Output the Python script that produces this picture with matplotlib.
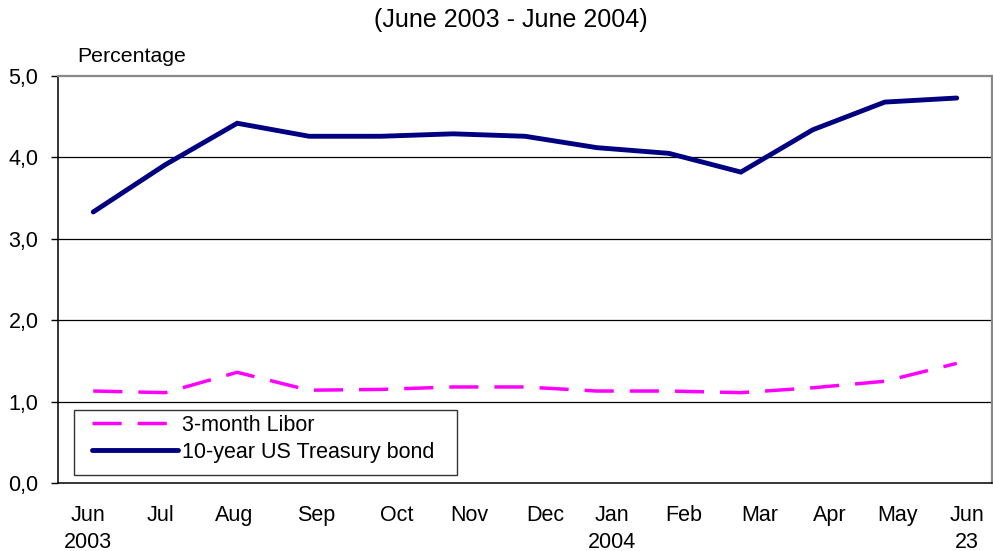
import matplotlib
matplotlib.use("Agg")
import matplotlib.pyplot as plt
from matplotlib.patches import Rectangle

plt.rcParams["font.family"] = ["Liberation Sans", "DejaVu Sans"]
plt.rcParams["lines.scale_dashes"] = False

# monthly observations, June 2003 to June 23, 2004
months = ["Jun\n2003", "Jul", "Aug", "Sep", "Oct", "Nov", "Dec",
          "Jan\n2004", "Feb", "Mar", "Apr", "May", "Jun\n23"]
libor = [1.13, 1.11, 1.36, 1.14, 1.15, 1.18, 1.18,
         1.13, 1.13, 1.11, 1.17, 1.25, 1.47]
treasury = [3.33, 3.91, 4.42, 4.26, 4.26, 4.29, 4.26,
            4.12, 4.05, 3.82, 4.34, 4.68, 4.73]
# where the month labels sit along the axis
label_pos = [-0.08, 0.94, 1.96, 3.10, 4.22, 5.22, 6.28,
             7.21, 8.21, 9.26, 10.24, 11.17, 12.14]

x = list(range(len(treasury)))

fig = plt.figure(figsize=(9.93, 5.51), dpi=100)
ax = fig.add_axes([0.0584, 0.1234, 0.9406, 0.7386])

ax.plot(x, libor, color="#ff00ff", lw=2.5, dashes=(21, 11.5),
        dash_capstyle="butt", label="3-month Libor", zorder=3)
ax.plot(x, treasury, color="#000080", lw=3.5, solid_capstyle="round",
        solid_joinstyle="miter", label="10-year US Treasury bond", zorder=3)

ax.set_xlim(-0.49, 12.49)
ax.set_ylim(0, 5)
ax.set_yticks([0, 1, 2, 3, 4, 5])
ax.set_yticklabels([f"{v:.1f}".replace(".", ",") for v in range(6)])
ax.set_xticks(label_pos)
ax.set_xticklabels(months, linespacing=1.35)
ax.tick_params(axis="x", length=0, pad=16, labelsize=15.5)
ax.tick_params(axis="y", length=5, width=1, pad=9, labelsize=15.5, direction="out")

for yv in [1, 2, 3, 4]:
    ax.axhline(yv, color="black", lw=0.9, zorder=1)

for side in ["left", "bottom"]:
    ax.spines[side].set_color("black")
    ax.spines[side].set_linewidth(1.1)
for side in ["top", "right"]:
    ax.spines[side].set_color("#888888")
    ax.spines[side].set_linewidth(1.6)

# legend box is drawn separately so it can be wider than its contents
ax.add_patch(Rectangle((0.0171, 0.0197), 0.410, 0.1597, transform=ax.transAxes,
                       facecolor="white", edgecolor="#333333", lw=1.0, zorder=4))
ax.legend(loc="center left", bbox_to_anchor=(0.0364, 0.109),
          borderaxespad=0, borderpad=0, fontsize=15.5, handlelength=4.0,
          handletextpad=0.19, labelspacing=0.28, frameon=False).set_zorder(5)

ax.text(0.021, 1.025, "Percentage", transform=ax.transAxes,
        fontsize=15.3, ha="left", va="bottom")
fig.text(0.5145, 1 - 20 / 551, "(June 2003 - June 2004)",
         fontsize=18, ha="center", va="center")

fig.savefig("out.png", dpi=100)
